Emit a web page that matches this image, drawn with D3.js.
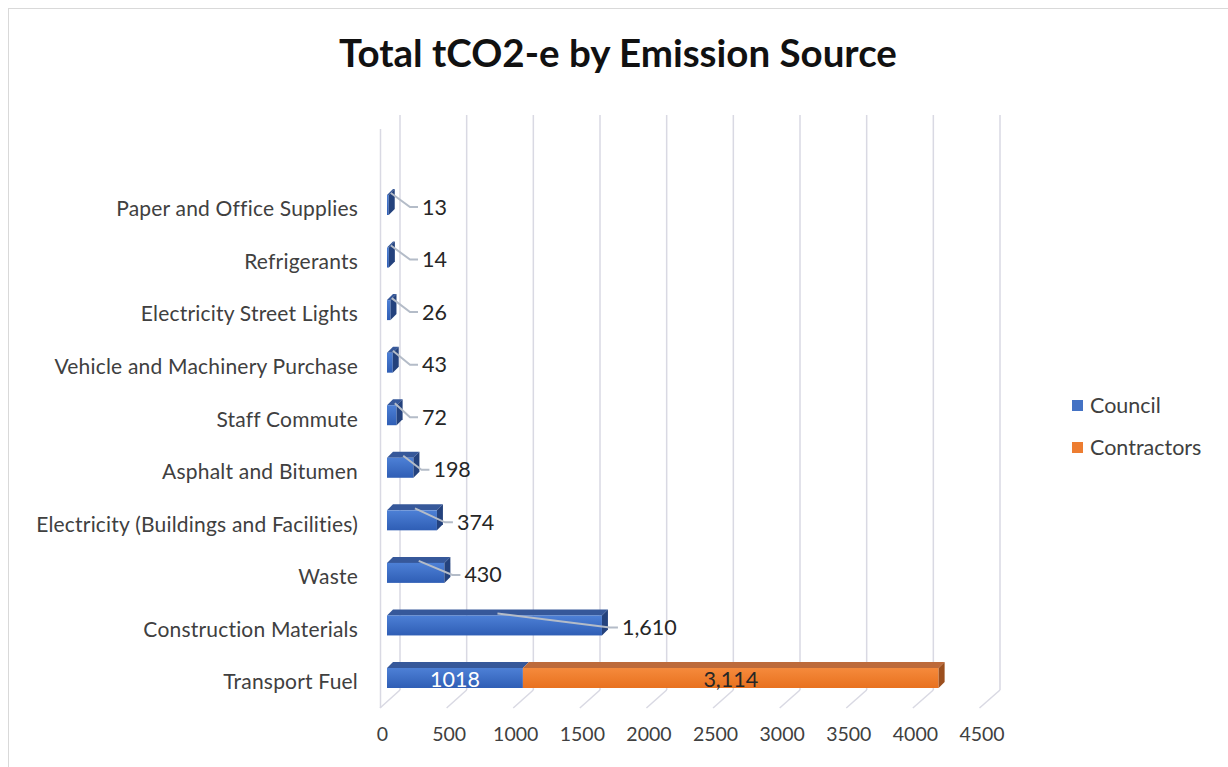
<!DOCTYPE html>
<html><head><meta charset="utf-8">
<script src="https://cdn.jsdelivr.net/npm/d3@7"></script>
<style>
html,body{margin:0;padding:0;background:#fff;}
text{font-family:Lato,"Open Sans",sans-serif;}
</style></head>
<body>
<svg id="chart" width="1228" height="767"></svg>
<script>
const categories = ["Paper and Office Supplies","Refrigerants","Electricity Street Lights","Vehicle and Machinery Purchase","Staff Commute","Asphalt and Bitumen","Electricity (Buildings and Facilities)","Waste","Construction Materials","Transport Fuel"];
const councilValues = [13,14,26,43,72,198,374,430,1610,1018];
const contractorValues = [0,0,0,0,0,0,0,0,0,3114];
const seriesNames = ["Council","Contractors"];
const tickValues = [0,500,1000,1500,2000,2500,3000,3500,4000,4500];
const title = "Total tCO2-e by Emission Source";

const svg = d3.select("#chart");
const W = 1228, H = 767;

// chart frame
svg.append("rect").attr("x",8.5).attr("y",8.5).attr("width",W+10).attr("height",H+10)
  .attr("fill","#fff").attr("stroke","#d9d9d9");

svg.append("text").attr("x",618).attr("y",67).attr("text-anchor","middle")
  .attr("font-size",38.5).attr("font-weight",700).attr("fill","#111").text(title);

const domainMax = 4500;
const xBack = d3.scaleLinear().domain([0,domainMax]).range([400,1000]);
const xFloor = d3.scaleLinear().domain([0,domainMax]).range([380,979.5]);
const xBar = d3.scaleLinear().domain([0,domainMax]).range([387,387+4500*0.1335]);
const y = d3.scalePoint().domain(categories).range([205,678]);

const gridTop = 115, gridBottom = 690, floorY = 708;
const gridColor = "#d9d9e3";
const grid = svg.append("g");
// left wall front edge
grid.append("line").attr("x1",380.5).attr("x2",380.5).attr("y1",129).attr("y2",floorY)
  .attr("stroke",gridColor).attr("stroke-width",1.5);
tickValues.forEach(t=>{
  grid.append("line").attr("x1",xBack(t)).attr("x2",xBack(t)).attr("y1",gridTop).attr("y2",gridBottom)
    .attr("stroke",gridColor).attr("stroke-width",1.5);
  grid.append("line").attr("x1",xBack(t)).attr("x2",xFloor(t)).attr("y1",gridBottom).attr("y2",floorY)
    .attr("stroke",gridColor).attr("stroke-width",1.5);
});

// x axis labels
const axisG = svg.append("g").attr("transform","translate(2,724)")
  .call(d3.axisBottom(xFloor).tickValues(tickValues).tickSize(0).tickPadding(3).tickFormat(d3.format("d")));
axisG.select(".domain").remove();
axisG.selectAll("text").attr("font-size",19.5).attr("fill","#404040").attr("font-family","Lato, sans-serif");

// category labels
svg.append("g").selectAll("text").data(categories).join("text")
  .attr("x",358).attr("y",d=>y(d)+4).attr("dy","0.35em").attr("text-anchor","end")
  .attr("font-size",21).attr("letter-spacing",0.2).attr("fill","#404040").text(d=>d);

// gradients
const defs = svg.append("defs");
function grad(id, c1, c2){
  const g = defs.append("linearGradient").attr("id",id).attr("x1",0).attr("y1",0).attr("x2",0).attr("y2",1);
  g.append("stop").attr("offset","0%").attr("stop-color",c1);
  g.append("stop").attr("offset","100%").attr("stop-color",c2);
}
grad("gBlue","#4d80d6","#2f5eb5");
grad("gOrange","#f58a3c","#e8711f");

const frontH = 20, dx = 6, dy = 6;
const colors = {
  Council:{front:"url(#gBlue)", top:"#36589a", side:"#24427d"},
  Contractors:{front:"url(#gOrange)", top:"#bd6a3a", side:"#9c4f1e"}
};

const segs = [];
categories.forEach((c,i)=>{
  const a = councilValues[i], b = contractorValues[i];
  segs.push({cat:c, name:"Council", x0:0, x1:a, v:a, last: b===0});
  if (b>0) segs.push({cat:c, name:"Contractors", x0:a, x1:a+b, v:b, last:true});
});

const bars = svg.append("g");
segs.forEach(s=>{
  const xl = xBar(s.x0), xr = xBar(s.x1);
  const yt = y(s.cat)-frontH/2, yb = y(s.cat)+frontH/2;
  const col = colors[s.name];
  bars.append("path").attr("d",`M${xl},${yt}L${xr},${yt}L${xr+dx},${yt-dy}L${xl+dx},${yt-dy}Z`)
    .attr("fill",col.top);
  bars.append("rect").attr("x",xl).attr("y",yt).attr("width",Math.max(xr-xl,0.5)).attr("height",frontH)
    .attr("fill",col.front);
  if (s.last){
    bars.append("path").attr("d",`M${xr},${yt}L${xr+dx},${yt-dy}L${xr+dx},${yb-dy}L${xr},${yb}Z`)
      .attr("fill",col.side);
  }
});

// data labels with leader lines (single-series rows)
const lbl = svg.append("g");
categories.forEach((c,i)=>{
  if (contractorValues[i] > 0) return;
  const v = councilValues[i];
  const end = xBar(v)+dx;
  const lx = Math.max(end+14, 422);
  const ly = y(c)+2;
  const sx = xBar(v/2)+3, sy = y(c)-frontH/2-2;
  lbl.append("path").attr("d",`M${sx},${sy}L${lx-12},${ly}L${lx-4},${ly}`)
    .attr("fill","none").attr("stroke","#b4bcc8").attr("stroke-width",2);
  lbl.append("text").attr("x",lx).attr("y",ly).attr("dy","0.35em").attr("font-size",21.5)
    .attr("fill","#262626").text(d3.format(",")(v));
});
// stacked row labels (inside)
const tf = categories.length-1;
lbl.append("text").attr("x",xBar(councilValues[tf]/2)).attr("y",y(categories[tf])+1).attr("dy","0.35em")
  .attr("text-anchor","middle").attr("font-size",21.5).attr("fill","#fff").text(d3.format("d")(councilValues[tf]));
lbl.append("text").attr("x",xBar(councilValues[tf]+contractorValues[tf]/2)).attr("y",y(categories[tf])+1).attr("dy","0.35em")
  .attr("text-anchor","middle").attr("font-size",21.5).attr("fill","#262626").text(d3.format(",")(contractorValues[tf]));

// legend
const leg = svg.append("g");
const legColors = ["#4472c4","#ed7d31"];
seriesNames.forEach((n,i)=>{
  const ly = 405 + i*42;
  leg.append("rect").attr("x",1072).attr("y",ly-5).attr("width",11).attr("height",11).attr("fill",legColors[i]);
  leg.append("text").attr("x",1090).attr("y",ly).attr("dy","0.35em").attr("font-size",21.5).attr("fill","#404040").text(n);
});
</script>
</body></html>
